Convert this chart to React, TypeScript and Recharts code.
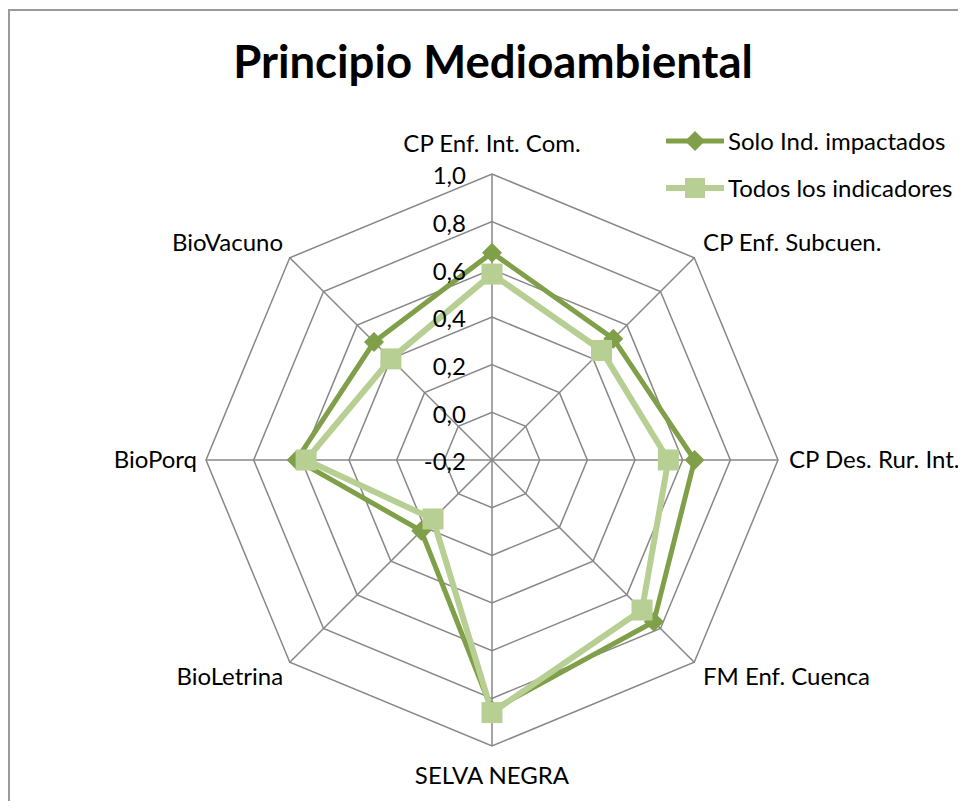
import { RadarChart, Radar, PolarGrid, PolarAngleAxis, PolarRadiusAxis, Legend } from 'recharts'

const categories = [
  'CP Enf. Int. Com.',
  'CP Enf. Subcuen.',
  'CP Des. Rur. Int.',
  'FM Enf. Cuenca',
  'SELVA NEGRA',
  'BioLetrina',
  'BioPorq',
  'BioVacuno',
]
const soloImpactados = [0.67, 0.52, 0.65, 0.76, 0.85, 0.22, 0.62, 0.5]
const todosIndicadores = [0.58, 0.45, 0.54, 0.69, 0.86, 0.15, 0.58, 0.4]
const radiusTicks = [-0.2, 0, 0.2, 0.4, 0.6, 0.8, 1.0]

const seriesNames = ['Solo Ind. impactados', 'Todos los indicadores']

const DARK = '#7fa049'
const LIGHT = '#b8cf93'
const GRID = '#878787'
const FONT = 'Lato, "Open Sans", sans-serif'

const data = categories.map((cat, i) => ({
  cat,
  solo: soloImpactados[i],
  todos: todosIndicadores[i],
}))

const fmt = (v: number) => v.toFixed(1).replace('.', ',')

// diamond marker for the first series
const Diamond = (props: any) => {
  const { cx, cy } = props
  if (cx == null || cy == null) return null
  const s = 10
  return (
    <polygon
      points={`${cx},${cy - s} ${cx + s},${cy} ${cx},${cy + s} ${cx - s},${cy}`}
      fill={DARK}
      stroke="none"
    />
  )
}

// square marker for the second series
const Square = (props: any) => {
  const { cx, cy } = props
  if (cx == null || cy == null) return null
  const s = 10.5
  return <rect x={cx - s} y={cy - s} width={s * 2} height={s * 2} fill={LIGHT} stroke="none" />
}

const AngleTick = (props: any) => {
  const { x, y, cx, cy, payload } = props
  const dx = x - cx
  const dy = y - cy
  const len = Math.sqrt(dx * dx + dy * dy) || 1
  const ux = dx / len
  const uy = dy / len
  let ox = 0
  let oy = 0
  let anchor: 'start' | 'middle' | 'end' = 'middle'
  if (Math.abs(ux) < 0.1) {
    oy = uy > 0 ? 22 : -22
  } else {
    anchor = ux > 0 ? 'start' : 'end'
    ox = ux > 0 ? 3 : -1
    oy = uy * 13
  }
  return (
    <text
      x={x + ox}
      y={y + oy}
      dy="0.35em"
      textAnchor={anchor}
      fill="#000"
      fontSize={24}
      fontFamily={FONT}
    >
      {payload.value}
    </text>
  )
}

const RadiusTick = (props: any) => {
  const { x, y, payload } = props
  return (
    <text x={x - 26} y={y + 2} dy="0.35em" textAnchor="end" fill="#000" fontSize={24} fontFamily={FONT}>
      {fmt(Number(payload.value))}
    </text>
  )
}

const LegendContent = () => (
  <div style={{ fontFamily: FONT, fontSize: 24, color: '#000' }}>
    {seriesNames.map((name, i) => (
      <div key={name} style={{ display: 'flex', alignItems: 'center', height: 47 }}>
        <svg width={58} height={24} style={{ marginRight: 4 }}>
          <line x1={1} y1={12} x2={57} y2={12} stroke={i === 0 ? DARK : LIGHT} strokeWidth={i === 0 ? 5 : 6} strokeLinecap="round" />
          {i === 0 ? (
            <polygon points="29,2 39,12 29,22 19,12" fill={DARK} />
          ) : (
            <rect x={19} y={2} width={20} height={20} fill={LIGHT} />
          )}
        </svg>
        <span style={{ whiteSpace: 'nowrap' }}>{name}</span>
      </div>
    ))}
  </div>
)

export default function App() {
  return (
    <div
      style={{
        position: 'relative',
        width: 958,
        height: 792,
        marginTop: 1,
        borderTop: '2px solid #9a9a9a',
        borderLeft: '2px solid #9a9a9a',
        boxSizing: 'border-box',
        background: '#fff',
      }}
    >
      <div
        style={{
          position: 'absolute',
          left: 0,
          top: 25,
          width: 956,
          fontFamily: FONT,
          fontWeight: 700,
          fontSize: 45.5,
          color: '#000',
          lineHeight: '50px',
        }}
      >
        <span style={{ position: 'absolute', left: 483, transform: 'translateX(-50%)', whiteSpace: 'nowrap' }}>
          Principio Medioambiental
        </span>
      </div>
      <div style={{ position: 'absolute', left: -2, top: -2 }}>
        <RadarChart
          width={958}
          height={792}
          data={data}
          cx={484}
          cy={451}
          outerRadius={286}
          style={{ overflow: 'visible' }}
        >
          <PolarGrid gridType="polygon" stroke={GRID} strokeWidth={1.5} strokeOpacity={1} />
          <PolarAngleAxis dataKey="cat" tick={<AngleTick />} tickLine={false} axisLine={false} />
          <PolarRadiusAxis
            angle={90}
            domain={[-0.2, 1]}
            ticks={radiusTicks as any}
            tickCount={7}
            axisLine={false}
            tick={<RadiusTick />}
          />
          <Radar
            name={seriesNames[0]}
            dataKey="solo"
            stroke={DARK}
            strokeWidth={5}
            fill="none"
            fillOpacity={0}
            dot={<Diamond />}
            isAnimationActive={false}
          />
          <Radar
            name={seriesNames[1]}
            dataKey="todos"
            stroke={LIGHT}
            strokeWidth={6}
            fill="none"
            fillOpacity={0}
            dot={<Square />}
            isAnimationActive={false}
          />
          <Legend
            content={<LegendContent />}
            wrapperStyle={{ position: 'absolute', left: 658, top: 108, width: 300 }}
          />
        </RadarChart>
      </div>
    </div>
  )
}
